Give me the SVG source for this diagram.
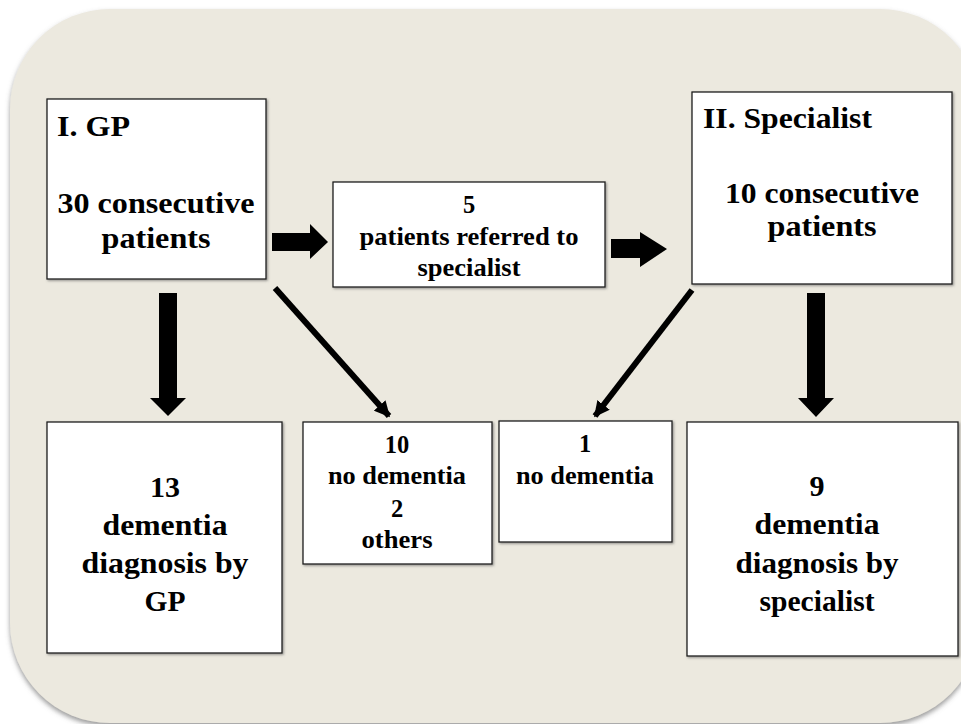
<svg xmlns="http://www.w3.org/2000/svg" width="961" height="724" viewBox="0 0 961 724">
  <defs>
    <filter id="panelShadow" x="-5%" y="-5%" width="110%" height="110%">
      <feDropShadow dx="0" dy="3" stdDeviation="2.5" flood-color="#6f6f6f" flood-opacity="0.7"/>
    </filter>
    <filter id="boxShadow" x="-5%" y="-5%" width="110%" height="110%">
      <feDropShadow dx="1.2" dy="1.2" stdDeviation="0.8" flood-color="#555" flood-opacity="0.6"/>
    </filter>
    <marker id="head" viewBox="0 0 10 10" refX="9" refY="5" markerWidth="2.6" markerHeight="2.6" orient="auto" markerUnits="strokeWidth">
      <path d="M0,0 L10,5 L0,10 Z" fill="#000"/>
    </marker>
  </defs>
  <style>
    .box { fill: #ffffff; stroke: #1e1e1e; stroke-width: 1.3; filter: url(#boxShadow); }
    .txt { font-family: "Liberation Serif", "DejaVu Serif", "Noto Serif", serif; font-weight: bold; fill: #000; }
    .big { font-size: 30px; }
    .small { font-size: 24.5px; }
    .c { text-anchor: middle; }
    .block { fill: #000; }
    .thin { stroke: #000; stroke-width: 6; fill: none; marker-end: url(#head); }
  </style>

  <!-- background panel -->
  <rect x="10" y="9" width="970" height="714" rx="100" ry="100" fill="#ECE9DF" filter="url(#panelShadow)"/>

  <!-- nodes -->
  <g class="txt">
  <g id="gp">
    <rect class="box" x="47" y="99" width="219" height="180"/>
    <text class="big" x="57" y="136" textLength="73" lengthAdjust="spacingAndGlyphs">I. GP</text>
    <text class="big c" x="156" y="213" textLength="197" lengthAdjust="spacingAndGlyphs">30 consecutive</text>
    <text class="big c" x="156" y="248" textLength="109" lengthAdjust="spacingAndGlyphs">patients</text>
  </g>

  <g id="referred">
    <rect class="box" x="333" y="182" width="272" height="105"/>
    <text class="small c" x="469" y="213">5</text>
    <text class="small c" x="469" y="245" textLength="219" lengthAdjust="spacingAndGlyphs">patients referred to</text>
    <text class="small c" x="469" y="276" textLength="103" lengthAdjust="spacingAndGlyphs">specialist</text>
  </g>

  <g id="specialist">
    <rect class="box" x="692" y="92" width="260" height="192"/>
    <text class="big" x="703" y="128" textLength="169" lengthAdjust="spacingAndGlyphs">II. Specialist</text>
    <text class="big c" x="822" y="203" textLength="194" lengthAdjust="spacingAndGlyphs">10 consecutive</text>
    <text class="big c" x="822" y="236" textLength="109" lengthAdjust="spacingAndGlyphs">patients</text>
  </g>

  <g id="gp-dementia">
    <rect class="box" x="47" y="422" width="235" height="231"/>
    <text class="big c" x="165" y="497">13</text>
    <text class="big c" x="165" y="535" textLength="125" lengthAdjust="spacingAndGlyphs">dementia</text>
    <text class="big c" x="165" y="573" textLength="167" lengthAdjust="spacingAndGlyphs">diagnosis by</text>
    <text class="big c" x="165" y="611" textLength="41" lengthAdjust="spacingAndGlyphs">GP</text>
  </g>

  <g id="gp-other">
    <rect class="box" x="303" y="422" width="189" height="142"/>
    <text class="small c" x="397" y="453">10</text>
    <text class="small c" x="397" y="484" textLength="138" lengthAdjust="spacingAndGlyphs">no dementia</text>
    <text class="small c" x="397" y="517">2</text>
    <text class="small c" x="397" y="548" textLength="71" lengthAdjust="spacingAndGlyphs">others</text>
  </g>

  <g id="spec-other">
    <rect class="box" x="499" y="421" width="173" height="121"/>
    <text class="small c" x="585" y="452">1</text>
    <text class="small c" x="585" y="484" textLength="138" lengthAdjust="spacingAndGlyphs">no dementia</text>
  </g>

  <g id="spec-dementia">
    <rect class="box" x="687" y="422" width="271" height="234"/>
    <text class="big c" x="817" y="496">9</text>
    <text class="big c" x="817" y="534" textLength="125" lengthAdjust="spacingAndGlyphs">dementia</text>
    <text class="big c" x="817" y="573" textLength="163" lengthAdjust="spacingAndGlyphs">diagnosis by</text>
    <text class="big c" x="817" y="611" textLength="115" lengthAdjust="spacingAndGlyphs">specialist</text>
  </g>
  </g>

  <!-- connectors -->
  <g id="connectors">
    <!-- block arrows -->
    <polygon class="block" points="272,233 310,233 310,224 328,242 310,259 310,251 272,251"/>
    <polygon class="block" points="611,239 640,239 640,232 667,249 640,267 640,258 611,258"/>
    <polygon class="block" points="159,293 177,293 177,398 186,398 168,416 150,398 159,398"/>
    <polygon class="block" points="807,293 825,293 825,398 834,398 816,417 798,398 807,398"/>
    <!-- diagonal arrows -->
    <line class="thin" x1="275" y1="288" x2="389" y2="416"/>
    <line class="thin" x1="692" y1="290" x2="595" y2="416"/>
  </g>
</svg>
